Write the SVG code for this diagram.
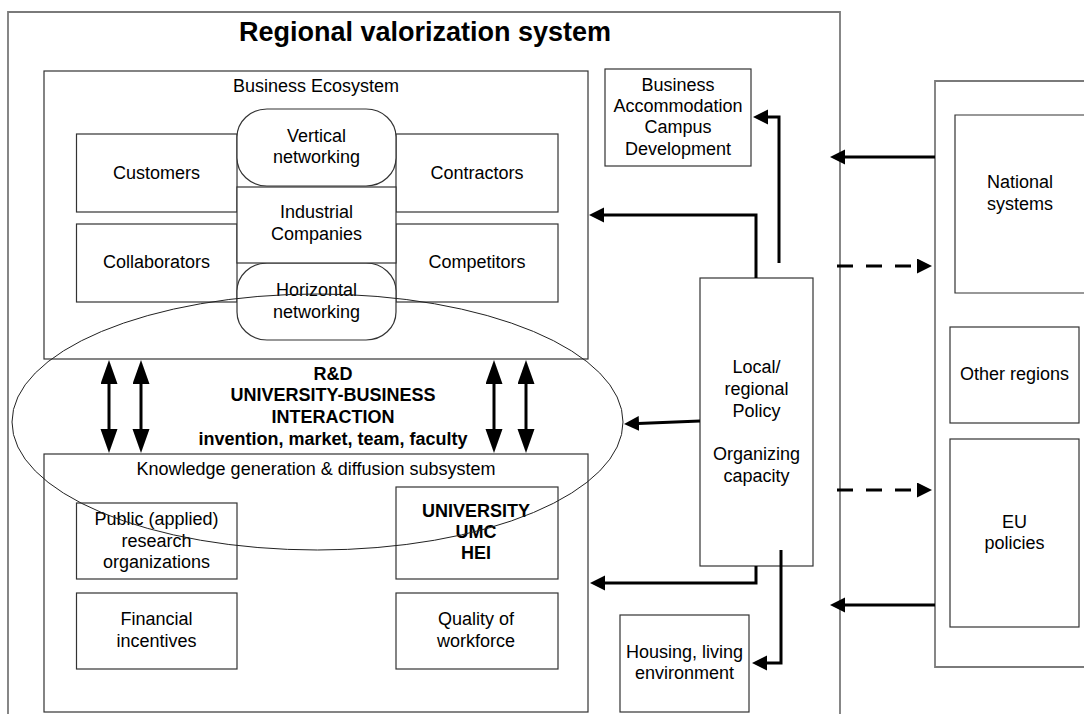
<svg xmlns="http://www.w3.org/2000/svg" width="1084" height="714" viewBox="0 0 1084 714">
<style>
text{font-family:"Liberation Sans",Arial,sans-serif;font-size:18px;fill:#000;text-anchor:middle}
.b{font-weight:bold}
.title{font-size:27px;font-weight:bold}
.box{fill:#fff;stroke:#333;stroke-width:1.2}
.frame{fill:none;stroke:#7a7a7a;stroke-width:1.8}
.pill{fill:#fff;stroke:#333;stroke-width:1.2}
.ell{fill:none;stroke:#222;stroke-width:1}
.con{fill:none;stroke:#000;stroke-width:3}
.dash{stroke-dasharray:16,13}
</style>
<defs>
<marker id="ah" markerUnits="userSpaceOnUse" markerWidth="16" markerHeight="16" refX="1" refY="7.5" orient="auto">
<path d="M0,0 L15,7.5 L0,15 z" fill="#000"/>
</marker>
<marker id="ahv" markerUnits="userSpaceOnUse" markerWidth="25" markerHeight="18" refX="1" refY="8.5" orient="auto-start-reverse">
<path d="M0,0 L24,8.5 L0,17 z" fill="#000"/>
</marker>
</defs>
<rect width="1084" height="714" fill="#fff"/>

<g id="frame-regional">
<path class="frame" d="M8,720 V12 H840 V720"/>
<text class="title" x="425" y="41">Regional valorization system</text>
</g>

<g id="business-ecosystem">
<rect class="box" x="44" y="71" width="544" height="288"/>
<text x="316" y="92">Business Ecosystem</text>
</g>
<g id="customers"><rect class="box" x="76.5" y="134" width="160.5" height="78"/><text x="156.5" y="179">Customers</text></g>
<g id="contractors"><rect class="box" x="396" y="134" width="162" height="78"/><text x="477" y="179">Contractors</text></g>
<g id="collaborators"><rect class="box" x="76.5" y="224" width="160.5" height="78"/><text x="156.5" y="268">Collaborators</text></g>
<g id="competitors"><rect class="box" x="396" y="224" width="162" height="78"/><text x="477" y="268">Competitors</text></g>
<g id="vertical-networking"><rect class="pill" x="237" y="109" width="159" height="77" rx="30" ry="28"/><text x="316.5" y="142">Vertical</text><text x="316.5" y="163">networking</text></g>
<g id="horizontal-networking"><rect class="pill" x="237" y="263" width="159" height="77" rx="30" ry="28"/><text x="316.5" y="296">Horizontal</text><text x="316.5" y="318">networking</text></g>
<g id="industrial-companies"><rect class="box" x="237" y="187" width="159" height="76"/><text x="316.5" y="218">Industrial</text><text x="316.5" y="240">Companies</text></g>

<g id="knowledge-subsystem">
<rect class="box" x="44" y="454" width="544" height="258"/>
<text x="316" y="475">Knowledge generation &amp; diffusion subsystem</text>
</g>
<g id="public-research"><rect class="box" x="76.5" y="503" width="160.5" height="76"/><text x="156.5" y="525">Public (applied)</text><text x="156.5" y="547">research</text><text x="156.5" y="568">organizations</text></g>
<g id="university"><rect class="box" x="396" y="487" width="162" height="92"/><text class="b" x="476" y="517">UNIVERSITY</text><text class="b" x="476" y="538">UMC</text><text class="b" x="476" y="559">HEI</text></g>
<g id="financial-incentives"><rect class="box" x="76.5" y="593" width="160.5" height="76"/><text x="156.5" y="625">Financial</text><text x="156.5" y="647">incentives</text></g>
<g id="quality-workforce"><rect class="box" x="396" y="593" width="162" height="76"/><text x="476" y="625">Quality of</text><text x="476" y="647">workforce</text></g>

<g id="interaction">
<ellipse class="ell" cx="317.5" cy="422" rx="305.5" ry="128"/>
<text class="b" x="333" y="380">R&amp;D</text>
<text class="b" x="333" y="401">UNIVERSITY-BUSINESS</text>
<text class="b" x="333" y="423">INTERACTION</text>
<text class="b" x="333" y="445">invention, market, team, faculty</text>
</g>

<g id="business-accommodation"><rect class="box" x="605" y="69" width="146" height="97"/><text x="678" y="91">Business</text><text x="678" y="112">Accommodation</text><text x="678" y="133">Campus</text><text x="678" y="155">Development</text></g>
<g id="local-policy"><rect class="box" x="700" y="278" width="113" height="288"/><text x="756.5" y="373">Local/</text><text x="756.5" y="395">regional</text><text x="756.5" y="417">Policy</text><text x="756.5" y="460">Organizing</text><text x="756.5" y="482">capacity</text></g>
<g id="housing"><rect class="box" x="620" y="615" width="129" height="97"/><text x="684.5" y="658">Housing, living</text><text x="684.5" y="679">environment</text></g>

<g id="external">
<path class="frame" d="M1090,81 H935 V667 H1090"/>
</g>
<g id="national-systems"><path class="box" d="M1090,115 H955 V293 H1090"/><text x="1020" y="188">National</text><text x="1020" y="210">systems</text></g>
<g id="other-regions"><rect class="box" x="950" y="327" width="129" height="96"/><text x="1014.5" y="380">Other regions</text></g>
<g id="eu-policies"><rect class="box" x="950" y="439" width="129" height="188"/><text x="1014.5" y="528">EU</text><text x="1014.5" y="549">policies</text></g>

<g id="connectors">
<path class="con" d="M779,263 V117 H767" marker-end="url(#ah)"/>
<path class="con" d="M756,278 V215 H603" marker-end="url(#ah)"/>
<path class="con" d="M935,157 H844" marker-end="url(#ah)"/>
<path class="con dash" d="M837,266 H918" marker-end="url(#ah)"/>
<path class="con" d="M700,421 L638,423.5" marker-end="url(#ah)"/>
<path class="con" d="M756,566 V583 H604" marker-end="url(#ah)"/>
<path class="con" d="M781,550 V663 H766" marker-end="url(#ah)"/>
<path class="con dash" d="M837,490 H918" marker-end="url(#ah)"/>
<path class="con" d="M935,605 H844" marker-end="url(#ah)"/>
<path class="con" d="M109,383 V430" marker-start="url(#ahv)" marker-end="url(#ahv)"/>
<path class="con" d="M141,383 V430" marker-start="url(#ahv)" marker-end="url(#ahv)"/>
<path class="con" d="M494,383 V430" marker-start="url(#ahv)" marker-end="url(#ahv)"/>
<path class="con" d="M526,383 V430" marker-start="url(#ahv)" marker-end="url(#ahv)"/>
</g>
</svg>
